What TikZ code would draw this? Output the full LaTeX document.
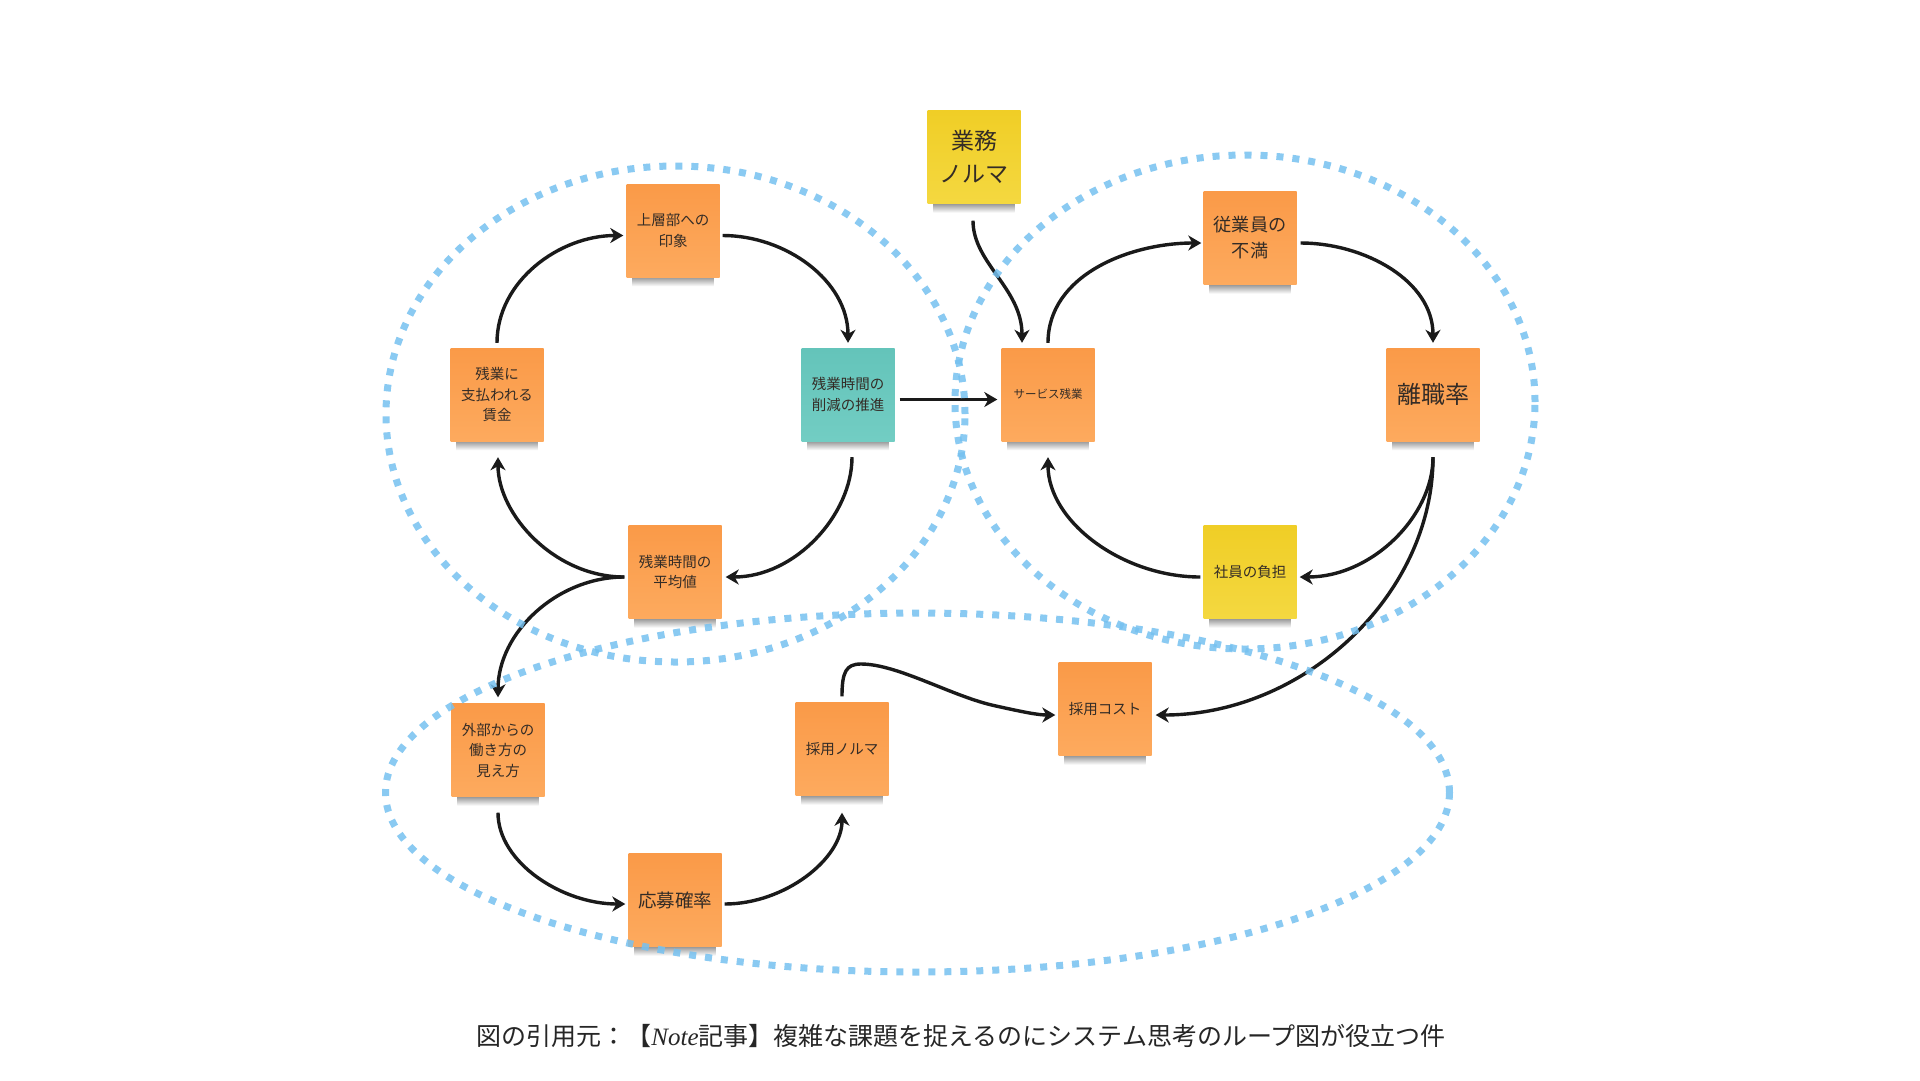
\documentclass[tikz,border=0pt]{standalone}
\usepackage{fontspec}
\setmainfont{Noto Sans CJK JP}
\newfontfamily\latinserif{Liberation Serif}
\usetikzlibrary{arrows.meta,calc}
\definecolor{stOrA}{RGB}{250,154,72}
\definecolor{stOrB}{RGB}{253,170,94}
\definecolor{stTeA}{RGB}{100,196,186}
\definecolor{stTeB}{RGB}{114,205,195}
\definecolor{stYeA}{RGB}{240,206,38}
\definecolor{stYeB}{RGB}{244,216,64}
\definecolor{loopblue}{RGB}{118,193,240}
\definecolor{inkc}{RGB}{26,26,26}
\definecolor{txtc}{RGB}{52,44,38}
\pgfdeclarelayer{bg}
\pgfsetlayers{bg,main}
\tikzset{
  sticky/.style={minimum width=93pt, minimum height=93pt, inner sep=0pt, align=center,
    text=txtc, font=\fontsize{14.5}{20.5}\selectfont},
  noteO/.style={sticky, top color=stOrA, bottom color=stOrB},
  noteT/.style={sticky, top color=stTeA, bottom color=stTeB},
  noteY/.style={sticky, top color=stYeA, bottom color=stYeB},
  link/.style={draw=inkc, line width=3.4pt, -{Stealth[length=13pt,width=15pt,inset=4pt]}},
  loopline/.style={draw=loopblue, line width=7pt, dash pattern=on 7pt off 9pt, opacity=0.85},
}
\begin{document}
\begin{tikzpicture}[x=1pt,y=1pt]
\begin{pgfonlayer}{bg}
  \fill[white] (0,0) rectangle (1920,-1080);
\end{pgfonlayer}
\useasboundingbox (0,0) rectangle (1920,-1080);

% sticky notes
\node[noteO] (insho)   at (673,-230.5) {上層部への\\印象};
\node[noteO] (chingin) at (497,-394.5) {残業に\\支払われる\\賃金};
\node[noteT] (sakugen) at (848,-394.5) {残業時間の\\削減の推進};
\node[noteO] (heikin)  at (675,-572) {残業時間の\\平均値};
\node[noteY, font=\fontsize{23}{33}\selectfont] (gyomu) at (974,-157) {業務\\ノルマ};
\node[noteO, font=\fontsize{18.2}{26}\selectfont] (fuman) at (1250,-238) {従業員の\\不満};
\node[noteO, font=\fontsize{11.5}{15}\selectfont] (service) at (1048,-394.5) {サービス残業};
\node[noteO, font=\fontsize{24}{30}\selectfont] (rishoku) at (1433,-394.5) {離職率};
\node[noteY] (futan)   at (1250,-572) {社員の負担};
\node[noteO] (gaibu)   at (498,-750) {外部からの\\働き方の\\見え方};
\node[noteO] (snorma)  at (842,-749) {採用ノルマ};
\node[noteO] (scost)   at (1105,-709) {採用コスト};
\node[noteO, font=\fontsize{18.5}{24}\selectfont] (oubo) at (675,-900) {応募確率};

% shadows under the notes
\begin{pgfonlayer}{bg}
\foreach \n in {insho,chingin,sakugen,heikin,gyomu,fuman,service,rishoku,futan,gaibu,snorma,scost,oubo}{
  \shade[top color=black!45, bottom color=white]
    ($(\n.south west)+(6,1)$) rectangle ($(\n.south east)+(-6,-9)$);
}
\end{pgfonlayer}

% connectors
\draw[link, shorten <=5pt, shorten >=3pt] (chingin.north) to[out=90,in=180] ([yshift=-5pt]insho.west);
\draw[link, shorten <=3pt, shorten >=5pt] ([yshift=-5pt]insho.east) to[out=0,in=90] (sakugen.north);
\draw[link, shorten <=16pt, shorten >=4pt] ([xshift=4pt]sakugen.south) to[out=-90,in=0] ([yshift=-5pt]heikin.east);
\draw[link, shorten <=4pt, shorten >=16pt] ([yshift=-5pt]heikin.west) to[out=180,in=-90] ([xshift=1pt]chingin.south);
\draw[link, shorten <=4pt, shorten >=6pt] ([yshift=-5pt]heikin.west) to[out=180,in=90] (gaibu.north);
\draw[link, shorten <=5pt, shorten >=4pt] ([yshift=-5pt]sakugen.east) -- ([yshift=-5pt]service.west);
\draw[link, shorten <=17pt, shorten >=5pt] ([xshift=-1pt]gyomu.south) to[out=-90,in=90] ([xshift=-26pt]service.north);
\draw[link, shorten <=5pt, shorten >=2pt] (service.north) to[out=90,in=180] ([yshift=-5pt]fuman.west);
\draw[link, shorten <=4pt, shorten >=5pt] ([yshift=-5pt]fuman.east) to[out=0,in=90] (rishoku.north);
\draw[link, shorten <=16pt, shorten >=3pt] (rishoku.south) to[out=-90,in=0] ([yshift=-5pt]futan.east);
\draw[link, shorten <=16pt, shorten >=4pt] (rishoku.south) to[out=-90,in=0] ([yshift=-6pt]scost.east);
\draw[link, shorten <=3pt, shorten >=16pt] ([yshift=-5pt]futan.west) to[out=180,in=-90] (service.south);
\draw[link, shorten <=6pt, shorten >=3pt] (snorma.north)
   .. controls (842,-672) and (846,-664) .. (861,-664)
   .. controls (898,-664) and (953,-697) .. (996,-706)
   .. controls (1023,-712) and (1038,-715) .. ([yshift=-6pt]scost.west);
\draw[link, shorten <=16pt, shorten >=3pt] (gaibu.south) to[out=-90,in=180] ([yshift=-4pt]oubo.west);
\draw[link, shorten <=3pt, shorten >=17pt] ([yshift=-4pt]oubo.east) to[out=0,in=-90] (snorma.south);

% loop outlines
\draw[loopline] (675.5,-414) ellipse [x radius=289.5, y radius=248];
\draw[loopline] (1245,-402) ellipse [x radius=290, y radius=247];
\draw[loopline] (917.5,-792.5) ellipse [x radius=532, y radius=179.5];

% caption
\node[font=\fontsize{25}{30}\selectfont, text=black!85] (cap) at (961,-1036)
  {図の引用元：【{\latinserif\itshape Note}記事】複雑な課題を捉えるのにシステム思考のループ図が役立つ件};
\end{tikzpicture}
\end{document}
